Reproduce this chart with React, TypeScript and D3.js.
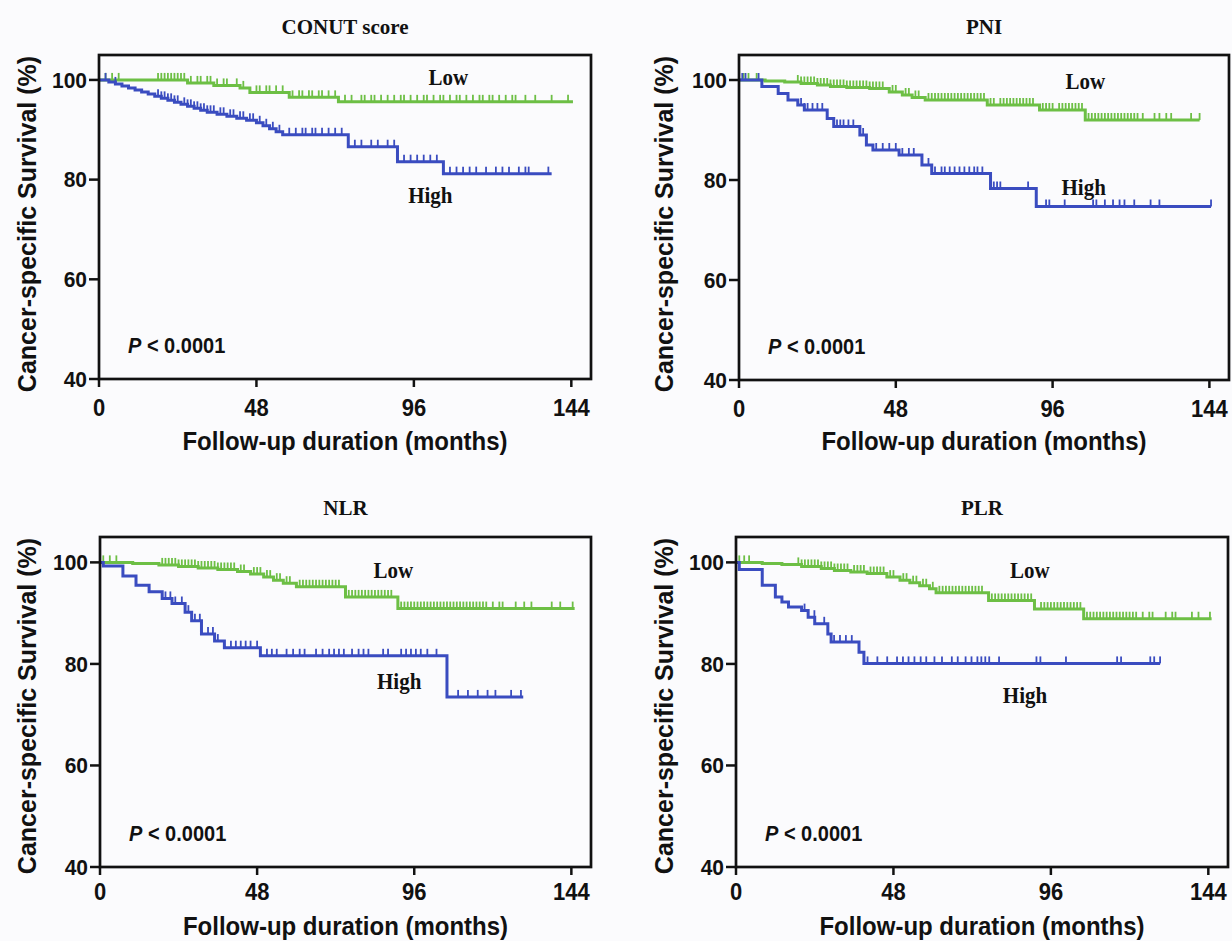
import React from "react";
import * as d3 from "d3";

type Step = [number, number];

// ---------- text ----------
const panelTitles = ["CONUT score", "PNI", "NLR", "PLR"];
const groupLabels = ["Low", "High"];
const pLetter = "P";
const pRest = " < 0.0001";
const xAxisTitle = "Follow-up duration (months)";
const yAxisTitle = "Cancer-specific Survival (%)";
const xTicks = [0, 48, 96, 144];
const yTicks = [40, 60, 80, 100];
const xDomain = [0, 150];
const yDomain = [40, 105];

// ---------- CONUT score ----------
const conutLowSteps: Step[] = [[0, 100], [27, 99.4], [35, 98.9], [43, 98.4], [46, 97.5], [58, 96.5], [73, 95.6]];
const conutLowEnd = 144.5;
const conutLowCensor = [2, 4, 6, 18, 19, 20, 21, 22, 23, 24, 25, 26, 28, 30, 31, 33, 34, 36, 38, 39, 42, 44, 48, 49, 51, 52, 54, 56, 59, 61, 62, 64, 65, 67, 68, 70, 72, 75, 77, 80, 81, 83, 84, 86, 88, 90, 92, 93, 95, 97, 99, 100, 102, 104, 105, 107, 109, 110, 112, 114, 116, 117, 119, 120, 122, 124, 126, 127, 130, 133, 138, 143];
const conutHighSteps: Step[] = [[0, 100], [3, 99.6], [5, 99.2], [7, 98.8], [9, 98.4], [11, 98.0], [13, 97.6], [15, 97.2], [17, 96.7], [19, 96.3], [21, 95.9], [23, 95.5], [25, 95.1], [27, 94.7], [29, 94.3], [31, 93.9], [33, 93.5], [36, 93.1], [39, 92.7], [42, 92.3], [45, 91.9], [48, 91.4], [50, 90.8], [52, 90.2], [54, 89.6], [56, 89.0], [76, 86.6], [91, 83.6], [105, 81.2]];
const conutHighEnd = 138;
const conutHighCensor = [2, 5, 18, 19, 20, 21, 22, 23, 24, 26, 27, 28, 29, 30, 31, 32, 33, 34, 35, 37, 38, 40, 41, 43, 44, 46, 47, 49, 51, 53, 55, 58, 60, 62, 63, 65, 66, 68, 70, 72, 74, 78, 80, 83, 85, 88, 90, 93, 95, 97, 99, 101, 103, 107, 109, 111, 113, 115, 118, 121, 123, 125, 128, 130, 131, 137];

// ---------- PNI ----------
const pniLowSteps: Step[] = [[0, 100], [8, 99.8], [14, 99.6], [19, 99.3], [24, 99.0], [28, 98.7], [33, 98.5], [40, 98.3], [46, 97.6], [50, 97.0], [53, 96.5], [57, 96.0], [76, 95.0], [92, 94.0], [106, 92.0]];
const pniLowEnd = 141;
const pniLowCensor = [1.4, 2.9, 5.4, 18, 19, 20, 21, 22, 23, 24, 25, 26, 27, 28, 29, 30, 31, 32, 33, 34, 35, 36, 37, 38, 39, 40, 41, 42, 43, 44, 47, 48, 51, 52, 54, 55, 58, 59, 60, 61, 62, 63, 64, 65, 66, 67, 68, 69, 70, 71, 72, 73, 74, 75, 77, 78, 80, 81, 82, 83, 84, 85, 86, 87, 88, 89, 90, 93, 94, 95, 96, 98, 99, 100, 101, 102, 103, 104, 105, 107, 108, 109, 110, 111, 112, 113, 114, 115, 116, 117, 118, 119, 120, 121, 122, 123.6, 127.2, 128.7, 130.8, 132.3, 138.4, 141];
const pniHighSteps: Step[] = [[0, 100], [7, 98.7], [12, 97.3], [15, 96.0], [18, 95.0], [20, 94.0], [27, 92.3], [29, 90.7], [37, 89.0], [39, 87.0], [41, 86.0], [49, 85.0], [56, 83.0], [59, 81.3], [77, 78.3], [91, 74.7]];
const pniHighEnd = 144.5;
const pniHighCensor = [1, 2, 6, 19, 20, 21, 22.5, 24, 25.5, 30, 31, 32, 33.5, 35, 38, 42, 44, 46, 48, 50, 52, 53.5, 58, 60, 62, 63, 64.5, 66, 67.5, 69, 70.5, 72, 73, 74.5, 78, 79, 80, 88.5, 94, 95, 99.7, 108.4, 109.4, 112, 114.5, 116.5, 118, 121, 126, 128.7, 144.5];

// ---------- NLR ----------
const nlrLowSteps: Step[] = [[0, 100], [10, 99.8], [18, 99.5], [24, 99.2], [30, 98.9], [36, 98.6], [42, 98.2], [46, 97.7], [50, 97.1], [53, 96.5], [56, 95.9], [60, 95.2], [75, 93.2], [91, 90.9]];
const nlrLowEnd = 145;
const nlrLowCensor = [1, 3, 5, 19, 20, 21, 22, 23, 24, 25, 26, 27, 28, 29, 30, 31, 32, 33, 34, 35, 36, 37, 38, 39, 40, 41, 43, 44, 47, 48, 49, 51, 52, 54, 55, 57, 58, 61, 62, 63, 64, 65, 66, 67, 68, 69, 70, 71, 72, 73, 76, 77, 78, 79, 80, 81, 82, 83, 84, 85, 86, 87, 88, 89, 92, 93, 94, 95, 96, 97, 98, 99, 100, 101, 102, 103, 104, 105, 106, 107, 108, 109, 110, 111, 112, 113, 114, 115, 116, 117, 118, 120, 122, 123, 127, 129.6, 131.8, 138, 140.6, 144.4];
const nlrHighSteps: Step[] = [[0, 100], [1, 99.3], [7, 97.3], [11, 95.5], [15, 94.2], [19, 92.9], [22, 91.9], [26, 90.2], [28, 88.5], [31, 85.9], [35, 84.5], [38, 83.2], [49, 81.6], [106, 73.5]];
const nlrHighEnd = 129.3;
const nlrHighCensor = [20, 21.5, 23, 25, 27, 29, 30.5, 33, 34.5, 36, 40, 41.5, 43, 44.5, 46, 48, 51, 52.5, 54, 57, 59, 61, 62.5, 66, 68, 70, 71.5, 73, 74.5, 77, 79, 80.5, 82, 86.5, 88, 92, 93.5, 95, 96.5, 98, 100, 102.8, 109.4, 112.4, 115.4, 118.4, 120.8, 125.6, 128.6];

// ---------- PLR ----------
const plrLowSteps: Step[] = [[0, 100], [8, 99.8], [14, 99.6], [20, 99.2], [26, 98.8], [30, 98.4], [35, 98.1], [40, 97.8], [46, 97.1], [50, 96.5], [53, 96.0], [56, 95.4], [59, 94.8], [61, 94.0], [77, 92.5], [91, 90.8], [106, 88.9]];
const plrLowEnd = 145;
const plrLowCensor = [1, 2.5, 4, 19, 20, 21, 22, 23, 24, 25, 26, 27, 28, 29, 30, 31, 32, 33, 34, 36, 37, 38, 39, 41, 42, 43, 44, 45, 47, 48, 51, 52, 54, 55, 57, 58, 60, 62, 63, 64, 65, 66, 67, 68, 69, 70, 71, 72, 73, 74, 75, 78, 79, 80, 81, 82, 83, 84, 85, 86, 87, 88, 89, 90, 93, 94, 95, 96, 97, 98, 99, 100, 101, 102, 103, 104, 105, 107, 108, 109, 110, 111, 112, 113, 114, 115, 116, 117, 118, 119, 120, 121, 122, 124, 126, 127, 131, 133, 134, 139, 141, 144.5];
const plrHighSteps: Step[] = [[0, 100], [1, 98.6], [8, 95.5], [12, 93.2], [14, 92.2], [16, 91.2], [20, 90.5], [22, 89.2], [24, 87.9], [28, 85.9], [29, 84.3], [37.5, 82.3], [39, 80.1]];
const plrHighEnd = 129.3;
const plrHighCensor = [20.9, 23.9, 26.9, 29.9, 31.7, 33.5, 35.3, 40.1, 43.1, 46.1, 49.1, 50.9, 52.6, 54.4, 56.3, 58, 60.5, 62.8, 65.8, 67.6, 70, 71.8, 73.6, 74.8, 76, 77.2, 80.2, 91.6, 92.8, 100.6, 116.2, 117.4, 126.3, 127.5, 129.3];

// label anchor points in data units [month, survival]
const lowLabelPos: Step[] = [[106.5, 100.4], [106, 99.6], [89.6, 98.4], [89.6, 98.4]];
const highLabelPos: Step[] = [[101, 76.7], [105.5, 78.4], [91.4, 76.4], [88.1, 73.8]];

// ---------- styling / layout ----------
const GREEN = "#6dbf45";
const BLUE = "#3a4cc0";
const INK = "#111";
const SANS = "'Liberation Sans', Arial, Helvetica, sans-serif";
const SERIF = "'Liberation Serif', 'Times New Roman', serif";

const layouts = [
  { left: 99, right: 591, top: 55, bottom: 379, titleY: 27, yLabelX: 27, xTitleY: 441, tickDy: 29 },
  { left: 739, right: 1229, top: 55, bottom: 380, titleY: 27, yLabelX: 664, xTitleY: 441, tickDy: 29 },
  { left: 100, right: 591, top: 537, bottom: 867, titleY: 508, yLabelX: 27, xTitleY: 926, tickDy: 25 },
  { left: 736, right: 1228, top: 537, bottom: 867, titleY: 508, yLabelX: 664, xTitleY: 926, tickDy: 25 },
];

const curves = [
  { low: [conutLowSteps, conutLowEnd, conutLowCensor], high: [conutHighSteps, conutHighEnd, conutHighCensor] },
  { low: [pniLowSteps, pniLowEnd, pniLowCensor], high: [pniHighSteps, pniHighEnd, pniHighCensor] },
  { low: [nlrLowSteps, nlrLowEnd, nlrLowCensor], high: [nlrHighSteps, nlrHighEnd, nlrHighCensor] },
  { low: [plrLowSteps, plrLowEnd, plrLowCensor], high: [plrHighSteps, plrHighEnd, plrHighCensor] },
] as { low: [Step[], number, number[]]; high: [Step[], number, number[]] }[];

function survAt(steps: Step[], t: number) {
  let s = steps[0][1];
  for (const [tt, ss] of steps) if (tt <= t) s = ss;
  return s;
}

// text slightly stretched vertically like the source figure
function SText({ x, y, sy = 1.06, rotate = 0, children, ...rest }: any) {
  return (
    <text
      transform={`translate(${x},${y}) scale(1,${sy})${rotate ? ` rotate(${rotate})` : ""}`}
      dominantBaseline="central"
      fill={INK}
      {...rest}
    >
      {children}
    </text>
  );
}

function KMCurve({ def, x, y, color }: any) {
  const [steps, end, censor] = def as [Step[], number, number[]];
  const pts: Step[] = [...steps, [end, steps[steps.length - 1][1]]];
  const line = d3
    .line<Step>()
    .x((d) => x(d[0]))
    .y((d) => y(d[1]))
    .curve(d3.curveStepAfter);
  return (
    <g>
      <path d={line(pts) || ""} fill="none" stroke={color} strokeWidth={3} />
      {censor.map((t, i) => {
        const s = survAt(steps, t);
        return <line key={i} x1={x(t)} x2={x(t)} y1={y(s)} y2={y(s) - 7} stroke={color} strokeWidth={1.8} />;
      })}
    </g>
  );
}

function Panel({ idx }: { idx: number }) {
  const L = layouts[idx];
  const x = d3.scaleLinear().domain(xDomain).range([L.left, L.right]);
  const y = d3.scaleLinear().domain(yDomain).range([L.bottom, L.top]);
  const cx = (L.left + L.right) / 2;
  const cy = L.top + 169;
  const c = curves[idx];
  return (
    <g>
      <SText x={cx} y={L.titleY} sy={1.0} textAnchor="middle" fontFamily={SERIF} fontWeight="bold" fontSize={21}>
        {panelTitles[idx]}
      </SText>
      <KMCurve def={c.low} x={x} y={y} color={GREEN} />
      <KMCurve def={c.high} x={x} y={y} color={BLUE} />
      <rect x={L.left} y={L.top} width={L.right - L.left} height={L.bottom - L.top} fill="none" stroke={INK} strokeWidth={2.7} />
      {xTicks.map((t) => (
        <g key={"x" + t}>
          <line x1={x(t)} x2={x(t)} y1={L.bottom} y2={L.bottom + 8} stroke={INK} strokeWidth={2.5} />
          <SText x={x(t)} y={L.bottom + L.tickDy} textAnchor="middle" fontFamily={SANS} fontWeight="bold" fontSize={22}>
            {t}
          </SText>
        </g>
      ))}
      {yTicks.map((t) => (
        <g key={"y" + t}>
          <line x1={L.left - 10} x2={L.left} y1={y(t)} y2={y(t)} stroke={INK} strokeWidth={2.5} />
          <SText x={L.left - 12} y={y(t)} textAnchor="end" fontFamily={SANS} fontWeight="bold" fontSize={21}>
            {t}
          </SText>
        </g>
      ))}
      <SText x={cx} y={L.xTitleY} textAnchor="middle" fontFamily={SANS} fontWeight="bold" fontSize={24}>
        {xAxisTitle}
      </SText>
      <SText x={L.yLabelX} y={cy} sy={1.0} rotate={-90} textAnchor="middle" fontFamily={SANS} fontWeight="bold" fontSize={25}>
        {yAxisTitle}
      </SText>
      <SText x={x(lowLabelPos[idx][0])} y={y(lowLabelPos[idx][1])} textAnchor="middle" fontFamily={SERIF} fontWeight="bold" fontSize={21}>
        {groupLabels[0]}
      </SText>
      <SText x={x(highLabelPos[idx][0])} y={y(highLabelPos[idx][1])} textAnchor="middle" fontFamily={SERIF} fontWeight="bold" fontSize={21}>
        {groupLabels[1]}
      </SText>
      <SText x={L.left + 29} y={L.bottom - 34} fontFamily={SANS} fontWeight="bold" fontSize={20}>
        <tspan fontStyle="italic">{pLetter}</tspan>
        <tspan>{pRest}</tspan>
      </SText>
    </g>
  );
}

export default function App() {
  return (
    <svg width={1232} height={941} style={{ position: "absolute", left: 0, top: 0, background: "#fbfbfd" }}>
      <rect x={0} y={0} width={1232} height={941} fill="#fbfbfd" />
      {[0, 1, 2, 3].map((i) => (
        <Panel key={i} idx={i} />
      ))}
    </svg>
  );
}
